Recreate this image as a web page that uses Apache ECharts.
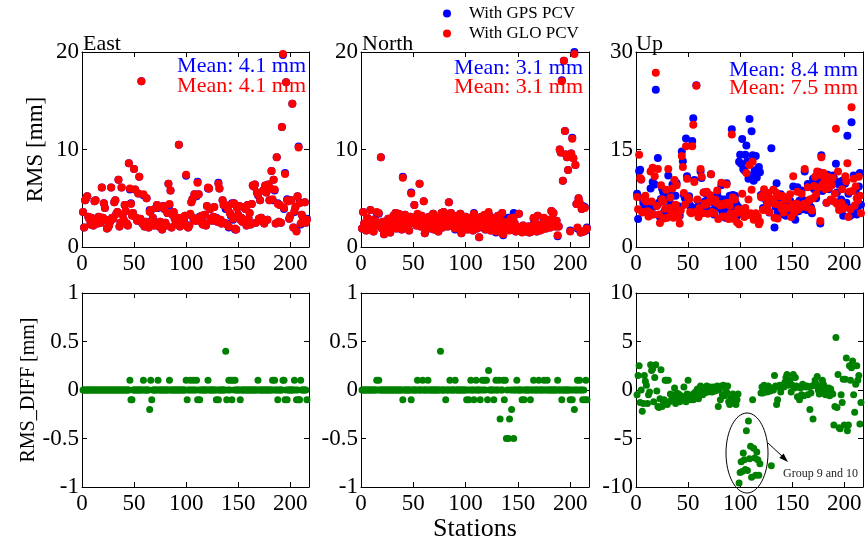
<!DOCTYPE html>
<html><head><meta charset="utf-8">
<script src="https://cdn.jsdelivr.net/npm/echarts@6/dist/echarts.min.js"></script>
<style>html,body{margin:0;padding:0;background:#fff}#c{width:866px;height:543px}</style>
</head><body><div id="c"></div>
<script>
// ---------- DATA ----------
const nStations = 216;
const xTicks = [0, 50, 100, 150, 200];

// East RMS with GLO PCV (mm)
const eastGLO = [
 3.6,2.0,4.8,5.0,5.2,3.1,2.9,2.3,3.0,2.5,
 2.2,4.7,4.8,2.6,2.4,3.1,2.9,2.5,6.1,3.0,
 4.5,4.0,2.8,1.9,2.0,2.2,2.6,6.1,3.0,2.9,
 4.6,4.8,3.4,3.6,6.9,2.1,2.5,6.1,3.3,2.8,
 4.3,3.7,2.4,2.2,8.6,6.0,4.4,3.2,3.5,8.0,
 5.9,3.0,2.7,5.5,7.2,2.9,17.0,2.4,5.4,2.1,
 2.6,5.0,2.3,2.0,3.6,3.8,2.6,3.0,2.2,2.4,
 4.0,4.3,4.1,2.1,2.6,2.3,1.8,4.2,3.9,2.5,
 2.2,3.5,6.5,4.4,5.8,2.0,3.3,3.6,2.9,2.4,
 2.7,3.0,10.5,2.1,2.3,3.0,2.6,2.8,3.2,7.4,
 2.1,2.0,2.2,3.4,4.6,4.9,3.0,5.4,2.7,5.3,
 6.6,5.4,3.0,2.6,3.2,2.3,2.5,3.3,2.2,4.2,
 6.1,6.0,3.9,2.9,2.7,3.1,4.1,3.0,2.9,2.6,
 6.5,6.0,2.8,2.4,4.8,4.3,2.5,4.3,2.3,3.9,
 2.1,3.5,3.3,4.4,2.9,4.5,1.9,1.8,4.0,3.3,
 4.2,2.8,3.0,2.6,4.1,2.7,3.9,2.2,4.3,2.9,
 3.5,2.3,4.4,6.3,6.2,6.4,2.5,5.6,5.4,2.9,
 4.8,3.0,2.7,5.8,2.4,6.3,5.6,2.8,6.4,4.8,
 6.0,7.8,4.9,6.9,5.9,2.4,9.2,4.4,2.6,4.3,
 2.5,12.3,19.8,4.0,7.5,16.9,4.8,4.7,2.9,3.2,
 4.8,14.7,2.0,3.7,4.1,1.6,5.2,10.2,4.5,2.4,
 3.3,2.7,2.9,4.6,2.5,2.8
];
// East RMS_DIFF = GLO - GPS (mm)
const eastDiff = [
 0,0,0,0,0,0,0,0,0,0,
 0,0,0,0,0,0,0,0,0,0,
 0,0,0,0,0,0,0,0,0,0,
 0,0,0,0,0,0,0,0,0,0,
 0,0,0,0,0,0.1,-0.1,-0.1,0,0,
 0,0,0,0,0,0,0,0,0.1,0,
 0,0,0,0,-0.2,0.1,-0.1,0,0,0,
 0,0,0.1,0,0,0,0,0,0,0,
 0,0,0,0.1,0,0,0,0,0,0,
 0,0,0,0,0,0,0,0,0,0.1,
 -0.1,0,0,0.1,0,0,0.1,0,0,0.1,
 -0.1,0,-0.1,0,0,0,0,0,0,0,
 0.1,0,0,0,0,0,0,0,-0.1,0,
 -0.1,0,0,0,0,0,0,0.4,-0.1,0,
 0.1,0,0.1,-0.1,0.1,0,0.1,0,0,0,
 0,-0.1,0,0,0,0,0,0,0,0,
 0,0,0,0,0,0,0,0,0.1,0,
 0,0,0,0,0,0,0,0,0,0,
 0,0,0.1,0,0.1,0,0,-0.1,0,0,
 0,0,0.1,0.1,-0.1,0,-0.1,0,0,0,
 0,0,0,0.1,0,-0.1,0,-0.1,-0.1,0.1,
 0,0,0,0,0,-0.1
];
// North RMS with GLO PCV (mm)
const northGLO = [
 1.9,3.6,2.4,2.0,1.7,3.0,2.6,1.8,3.8,2.3,
 2.8,1.6,2.1,2.7,3.6,2.4,3.5,2.2,9.2,1.9,
 2.6,1.3,2.0,2.5,1.6,2.9,2.3,1.5,2.8,2.1,
 3.2,2.4,3.5,1.9,2.7,3.4,2.2,3.0,1.8,7.1,
 2.6,3.3,2.0,3.0,2.4,1.7,3.1,5.5,2.5,2.8,
 4.3,3.0,2.2,3.4,2.7,6.5,2.1,3.2,2.6,4.7,
 1.4,2.9,2.3,2.0,3.1,2.5,1.9,2.6,3.4,1.8,
 2.8,2.2,3.0,1.6,2.4,2.7,3.5,2.0,3.6,2.9,
 2.3,3.3,2.1,4.6,2.8,3.5,2.2,2.6,3.0,1.9,
 2.5,3.2,2.0,2.7,3.4,1.4,2.4,2.9,2.1,3.1,
 2.6,1.8,2.3,3.0,2.0,2.7,1.7,3.4,2.2,2.5,
 1.9,2.8,1.0,2.4,3.1,2.1,2.6,3.3,1.8,2.3,
 2.9,3.6,2.2,1.7,2.5,3.0,2.0,2.7,1.6,2.4,
 3.2,2.1,2.8,1.5,3.5,1.3,2.6,2.0,2.3,1.8,
 2.5,1.7,2.9,2.2,3.0,3.0,2.4,1.6,2.1,1.8,
 3.4,1.7,2.0,1.5,2.2,1.8,1.6,2.0,1.7,2.1,
 1.5,1.9,1.6,2.2,3.0,1.8,2.4,1.6,3.2,1.9,
 1.7,2.3,1.8,2.0,3.0,2.5,1.9,2.2,2.6,2.8,
 2.0,3.7,2.9,3.5,2.4,2.1,2.7,1.2,2.1,10.0,
 9.7,17.0,6.8,19.1,11.9,9.5,9.2,7.9,9.3,1.6,
 9.6,11.1,9.1,19.8,8.4,4.4,2.0,5.0,4.6,1.5,
 3.9,4.1,1.6,4.0,1.8,1.9
];
// North RMS_DIFF = GLO - GPS (mm)
const northDiff = [
 0,0,0,0,0,0,0,0,0,0,
 0,0,0,0,0.1,0,0.1,0,0,0,
 0,0,0,0,0,0,0,0,0,0,
 0,0,0,0,0,0,0,0,0,-0.1,
 0,0,0,0,0,0,0,-0.1,0,0,
 0,0,0,0.1,0,0,0,0,0.1,0,
 0,0,0,0.1,0,0,0,0,0,0,
 0,0,0,0,0,0.4,0,0,0,0,
 -0.1,0,0,0,0.1,0,0,0,0,0.1,
 0,0,0,0,0,0,0,0,0,0,
 -0.1,0,-0.1,0,0.1,0,0,-0.1,0,0.1,
 0,0,0,-0.1,0,0.1,0,0.1,0,0.1,
 -0.1,0.2,0,0,0,0,-0.1,0,0.1,0,
 0,0.1,-0.3,0,0,0.1,-0.1,0.1,-0.5,0,
 -0.5,-0.3,0,-0.2,0,-0.5,0,0,0.1,0,
 0,0,0,-0.1,0,-0.1,0,0,0,0,
 0,-0.1,0,0,0.1,0,0,0,0,0.1,
 0,0,0,0,0.1,0,0,0.1,0,0,
 0,0,0,0,0,0,0,0.1,0,0,
 0,-0.1,0,0,0,0,0,0,0,-0.1,
 0,-0.1,0,-0.2,0,0,0.1,0,0.1,0,
 0,-0.1,0,-0.1,0.1,-0.1
];
// Up RMS with GPS PCV (mm)
const upGPS = [
 8.2,4.3,11.7,11.9,10.4,7.5,6.8,5.8,7.0,6.5,
 6.9,5.2,5.5,9.0,5.0,10.0,6.2,9.6,24.2,6.4,
 13.7,6.8,4.6,7.4,9.0,8.5,5.4,4.9,7.8,6.0,
 11.0,7.2,8.0,6.4,9.6,5.4,10.1,7.9,9.8,6.3,
 5.0,4.8,6.2,14.7,13.2,8.0,7.5,16.7,10.9,6.6,
 7.8,6.4,5.9,16.3,19.8,10.3,6.0,24.9,7.2,5.5,
 6.4,11.6,10.6,5.7,8.4,7.0,6.2,8.1,5.3,6.9,
 7.7,11.2,5.6,6.8,5.0,7.4,6.5,8.3,6.0,6.6,
 7.4,9.5,5.2,6.0,7.3,4.5,9.8,6.4,5.5,7.9,
 6.0,18.1,8.0,5.6,7.9,6.7,4.8,6.2,13.1,14.2,
 12.8,16.6,12.0,11.8,14.2,15.6,13.2,10.5,19.7,11.0,
 17.8,14.1,10.2,11.8,14.0,10.7,11.9,12.3,11.5,8.0,
 7.6,6.0,8.4,5.8,7.2,6.5,7.9,5.3,6.9,15.2,
 7.0,8.8,3.0,6.2,9.8,5.4,7.5,6.0,8.1,5.6,
 7.3,5.0,6.5,4.8,5.8,6.9,5.2,7.1,4.8,6.0,
 9.3,5.1,4.2,6.3,9.2,5.5,7.1,6.0,8.7,5.8,
 7.2,11.6,6.4,5.7,9.7,6.8,9.3,6.1,5.2,10.5,
 8.9,9.8,7.5,10.2,9.1,11.5,3.6,14.1,8.6,10.8,
 10.0,9.4,6.8,11.1,8.9,10.4,7.2,9.8,11.0,10.6,
 9.9,12.8,8.4,10.0,9.6,10.0,7.3,10.2,4.8,9.7,
 9.8,6.8,17.1,8.2,6.0,4.8,19.2,5.6,11.0,8.7,
 8.7,5.0,6.2,9.3,11.4,6.5
];
// Up RMS_DIFF = GLO - GPS (mm)
const upDiff = [
 -0.5,1.5,2.5,-1.3,0.0,-2.2,-1.4,1.5,0.9,0.5,
 -1.4,-0.5,-0.2,2.6,2.0,2.2,-1.2,1.3,2.6,-0.1,
 -1.7,-1.8,-0.9,2.1,-1.7,-1.5,-1.0,1.0,1.0,-1.5,
 1.0,-1.2,-0.4,-1.0,-0.6,-0.9,0.2,-1.4,-0.3,-0.8,
 -0.4,-1.2,-0.6,-0.7,-0.9,0.3,-1.0,-1.2,-0.4,1.0,
 -0.5,-1.0,-0.7,-0.8,-1.0,-0.3,-0.6,-0.1,0.1,-0.9,
 -0.4,0.4,0.2,-0.5,0.0,-0.3,0.3,0.4,-0.2,0.0,
 0.3,0.0,-0.2,0.3,0.2,-0.1,0.3,0.4,-1.7,0.0,
 -1.0,0.4,-0.5,0.5,-0.6,0.2,-0.2,0.4,-1.2,-1.5,
 -0.8,-0.8,-0.4,-1.3,-0.6,-1.5,-1.0,-0.4,-9.6,-8.5,
 -7.4,-8.4,-6.5,-7.2,-8.2,-4.2,-8.3,-3.2,-7.1,-5.8,
 -9.0,-1.0,-6.0,-7.0,-8.8,-6.4,-7.2,-8.8,-7.6,-0.3,
 0.3,-0.3,0.5,0.0,0.2,-0.2,0.4,0.1,-0.1,-7.8,
 0.2,0.0,1.5,0.4,-1.5,-1.0,0.3,0.5,-0.2,0.3,
 0.5,0.3,0.8,1.3,1.6,0.5,0.8,1.0,-0.2,0.5,
 1.6,0.2,1.3,0.4,-0.7,0.3,-1.0,0.2,-0.5,0.6,
 -0.6,0.4,0.3,0.4,-0.5,0.3,-2.0,-0.3,0.4,-3.0,
 0.5,1.0,0.6,1.4,0.0,-0.4,0.4,-0.3,1.0,0.6,
 0.3,-0.5,0.0,-0.3,0.2,-0.6,0.1,-0.3,-0.4,-3.6,
 -1.7,5.4,-1.8,1.6,-3.9,-4.0,-0.5,-1.3,1.1,-3.6,
 1.1,3.3,-4.2,-3.6,2.5,1.0,2.3,3.0,-0.5,-2.3,
 0.6,2.5,1.0,1.5,-3.5,-1.3
];
const meanTexts = [
  ['Mean: 4.1 mm', 'Mean: 4.1 mm'],
  ['Mean: 3.1 mm', 'Mean: 3.1 mm'],
  ['Mean: 8.4 mm', 'Mean: 7.5 mm']
];
const panelTitles = ['East', 'North', 'Up'];

// ---------- BUILD ----------
const r2 = v => Math.round(v * 100) / 100;
const stations = [];
for (let i = 1; i <= nStations; i++) stations.push(i);
const eastGPS = eastGLO.map((v, i) => r2(v - eastDiff[i]));
const northGPS = northGLO.map((v, i) => r2(v - northDiff[i]));
const upGLO = upGPS.map((v, i) => r2(v + upDiff[i]));
const pts = vals => vals.map((v, i) => [stations[i], v]);

const FONT = '"Liberation Serif","Times New Roman",Times,serif';
const BLUE = '#0000ff', RED = '#ff0000', GREEN = '#008000';

const panels = [
  {grid: {left: 82, top: 52, width: 227, height: 195}, ymin: 0, ymax: 20, yint: 10},
  {grid: {left: 361, top: 52, width: 228, height: 195}, ymin: 0, ymax: 20, yint: 10},
  {grid: {left: 636, top: 52, width: 227, height: 195}, ymin: 0, ymax: 30, yint: 15},
  {grid: {left: 82, top: 293, width: 227, height: 194}, ymin: -1, ymax: 1, yint: 0.5},
  {grid: {left: 361, top: 293, width: 228, height: 194}, ymin: -1, ymax: 1, yint: 0.5},
  {grid: {left: 636, top: 293, width: 227, height: 194}, ymin: -10, ymax: 10, yint: 5}
];

const grids = [], xAxes = [], yAxes = [];
const line = {show: true, onZero: false, lineStyle: {color: '#000', width: 1}};
const tick = {show: true, inside: true, length: 5, lineStyle: {color: '#000', width: 1}};
panels.forEach((p, g) => {
  grids.push(Object.assign({containLabel: false, show: false}, p.grid));
  const xb = {
    gridIndex: g, type: 'value', min: 0, max: 218, interval: 50, position: 'bottom',
    axisLine: line, axisTick: tick, splitLine: {show: false},
    axisLabel: {color: '#000', fontFamily: FONT, fontSize: 23, margin: 5, showMaxLabel: false,
      formatter: v => (xTicks.indexOf(v) >= 0 ? String(v) : '')}
  };
  if (g === 4) {
    Object.assign(xb, {name: 'Stations', nameLocation: 'middle', nameGap: 27,
      nameTextStyle: {color: '#000', fontFamily: FONT, fontSize: 26}});
  }
  xAxes.push(xb);
  xAxes.push({gridIndex: g, type: 'value', min: 0, max: 218, interval: 50, position: 'top',
    axisLine: line, axisTick: tick, axisLabel: {show: false}, splitLine: {show: false}});
  const yl = {
    gridIndex: g, type: 'value', min: p.ymin, max: p.ymax, interval: p.yint, position: 'left',
    axisLine: line, axisTick: tick, splitLine: {show: false},
    axisLabel: {color: '#000', fontFamily: FONT, fontSize: 23, margin: 3}
  };
  if (g === 0) {
    Object.assign(yl, {name: 'RMS [mm]', nameLocation: 'middle', nameGap: 35,
      nameTextStyle: {color: '#000', fontFamily: FONT, fontSize: 23}});
  } else if (g === 3) {
    Object.assign(yl, {name: 'RMS_DIFF [mm]', nameLocation: 'middle', nameGap: 36,
      nameTextStyle: {color: '#000', fontFamily: FONT, fontSize: 20}});
  }
  yAxes.push(yl);
  yAxes.push({gridIndex: g, type: 'value', min: p.ymin, max: p.ymax, interval: p.yint, position: 'right',
    axisLine: line, axisTick: tick, axisLabel: {show: false}, splitLine: {show: false}});
});

function sc(name, g, data, color, size) {
  return {name: name, type: 'scatter', xAxisIndex: 2 * g, yAxisIndex: 2 * g, data: pts(data),
    symbol: 'circle', symbolSize: size, itemStyle: {color: color, opacity: 1}, silent: true};
}
const series = [
  sc('With GPS PCV', 0, eastGPS, BLUE, 8), sc('With GLO PCV', 0, eastGLO, RED, 8),
  sc('With GPS PCV', 1, northGPS, BLUE, 8), sc('With GLO PCV', 1, northGLO, RED, 8),
  sc('With GPS PCV', 2, upGPS, BLUE, 8), sc('With GLO PCV', 2, upGLO, RED, 8),
  sc('RMS_DIFF East', 3, eastDiff, GREEN, 7),
  sc('RMS_DIFF North', 4, northDiff, GREEN, 7),
  sc('RMS_DIFF Up', 5, upDiff, GREEN, 7)
];

const titleLefts = [83, 362, 636];
const titles = panelTitles.map((t, i) => ({text: t, left: titleLefts[i], top: 33, padding: 0,
  textStyle: {color: '#000', fontFamily: FONT, fontSize: 22, fontWeight: 'normal'}}));

const meanPos = [{x: 306, yb: 66, yr: 86}, {x: 583, yb: 68, yr: 87}, {x: 858, yb: 70, yr: 88}];
const graphics = [];
meanTexts.forEach((m, i) => {
  graphics.push({type: 'text', x: meanPos[i].x, y: meanPos[i].yb, z: 100,
    style: {text: m[0], fill: BLUE, font: '22px ' + FONT, align: 'right', verticalAlign: 'middle'}});
  graphics.push({type: 'text', x: meanPos[i].x, y: meanPos[i].yr, z: 100,
    style: {text: m[1], fill: RED, font: '22px ' + FONT, align: 'right', verticalAlign: 'middle'}});
});
// annotation on Up difference panel
graphics.push({type: 'ellipse', shape: {cx: 747, cy: 453, rx: 21, ry: 40}, z: 100,
  style: {fill: 'none', stroke: '#000', lineWidth: 1}});
graphics.push({type: 'line', shape: {x1: 768, y1: 443, x2: 783, y2: 457}, z: 100,
  style: {stroke: '#000', lineWidth: 1}});
graphics.push({type: 'polygon', shape: {points: [[788, 462], [779.4, 458.0], [783.6, 453.6]]}, z: 100,
  style: {fill: '#000'}});
graphics.push({type: 'text', x: 783, y: 474, z: 100,
  style: {text: 'Group 9 and 10', fill: '#222', font: '12px ' + FONT, verticalAlign: 'middle'}});

const chart = echarts.init(document.getElementById('c'), null, {renderer: 'canvas'});
chart.setOption({
  animation: false,
  backgroundColor: '#fff',
  title: titles,
  legend: {
    data: ['With GPS PCV', 'With GLO PCV'], orient: 'vertical', left: 443, top: 5,
    icon: 'circle', itemWidth: 8, itemHeight: 8, itemGap: 3, padding: 0,
    formatter: '{a|{name}}',
    textStyle: {color: '#000', fontFamily: FONT, fontSize: 17,
      rich: {a: {padding: [0, 0, 0, 13], color: '#000', fontFamily: FONT, fontSize: 17}}},
    selectedMode: false
  },
  grid: grids, xAxis: xAxes, yAxis: yAxes, series: series, graphic: graphics
});
</script></body></html>
